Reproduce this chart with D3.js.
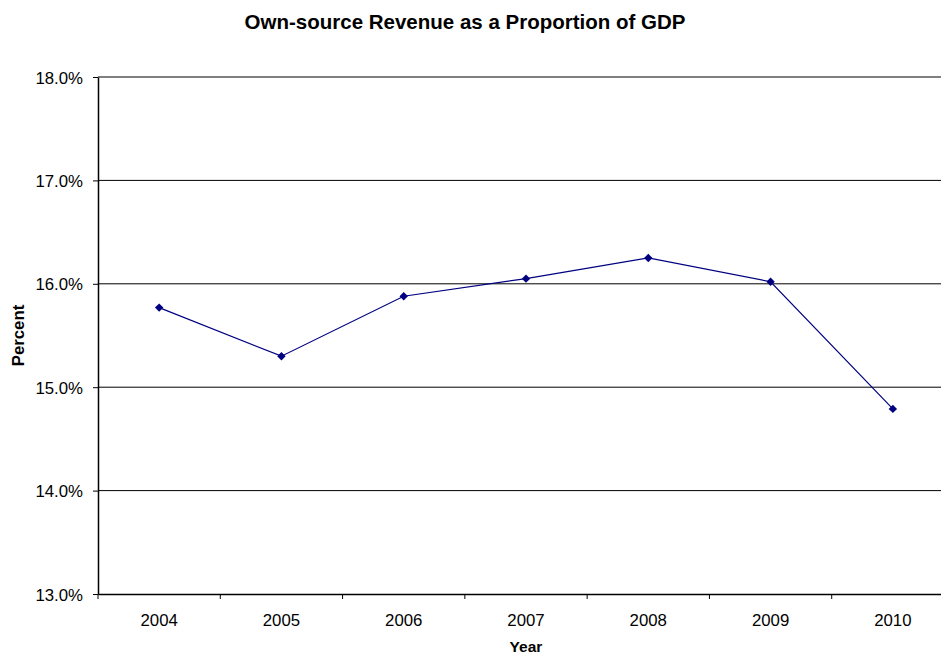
<!DOCTYPE html>
<html>
<head>
<meta charset="utf-8">
<script src="https://cdn.jsdelivr.net/npm/d3@7/dist/d3.min.js"></script>
<style>
  html, body { margin: 0; padding: 0; background: #fff; overflow: hidden; }
  svg { display: block; font-family: Arial, "Liberation Sans", sans-serif; }
</style>
</head>
<body>
<svg id="chart" width="941" height="656"></svg>
<script>
// Own-source revenue, percent of GDP, by year
const years = ["2004", "2005", "2006", "2007", "2008", "2009", "2010"];
const revenueShare = [15.77, 15.30, 15.88, 16.05, 16.25, 16.02, 14.79];
const yTicks = [13, 14, 15, 16, 17, 18];

const svg = d3.select("#chart");
const margin = { left: 98, top: 77, right: 954, bottom: 594 };
const labelFont = "Arial, 'Liberation Sans', sans-serif";

const x = d3.scaleBand().domain(years).range([margin.left, margin.right]).padding(0);
const y = d3.scaleLinear().domain([13, 18]).range([margin.bottom, margin.top]);

// horizontal gridlines
svg.append("g")
  .selectAll("line")
  .data(yTicks.filter(d => d > 13))
  .join("line")
  .attr("x1", margin.left).attr("x2", margin.right)
  .attr("y1", d => y(d)).attr("y2", d => y(d))
  .attr("stroke", "#000").attr("stroke-width", 1);

// y axis
const yAxis = svg.append("g")
  .attr("transform", `translate(${margin.left},0)`)
  .call(d3.axisLeft(y).tickValues(yTicks).tickFormat(d => d3.format(".1f")(d) + "%").tickSize(5).tickSizeOuter(0));
yAxis.select(".domain").attr("stroke", "#000").attr("stroke-width", 1.5);
yAxis.selectAll(".tick line").attr("stroke", "#000");
yAxis.selectAll(".tick text").attr("font-size", 16.8).attr("fill", "#000").attr("x", -15).attr("dy", "0.36em")
  .style("font-family", labelFont);

// x axis with ticks between categories
const xAxis = svg.append("g")
  .attr("transform", `translate(0,${margin.bottom})`)
  .call(d3.axisBottom(x).tickSize(0).tickSizeOuter(0));
xAxis.select(".domain").attr("stroke", "#000").attr("stroke-width", 1.5);
xAxis.selectAll(".tick text").attr("font-size", 16.8).attr("fill", "#000").attr("y", 32).attr("dy", 0)
  .style("font-family", labelFont);
xAxis.append("g")
  .selectAll("line")
  .data(years)
  .join("line")
  .attr("x1", d => x(d)).attr("x2", d => x(d))
  .attr("y1", 0).attr("y2", 5)
  .attr("stroke", "#000");

// series line
const line = d3.line()
  .x((d, i) => x(years[i]) + x.bandwidth() / 2)
  .y(d => y(d));
svg.append("path")
  .datum(revenueShare)
  .attr("d", line)
  .attr("fill", "none")
  .attr("stroke", "#000080")
  .attr("stroke-width", 1.2);

// diamond markers
svg.append("g")
  .selectAll("path")
  .data(revenueShare)
  .join("path")
  .attr("d", d3.symbol().type(d3.symbolDiamond2).size(45))
  .attr("transform", (d, i) => `translate(${x(years[i]) + x.bandwidth() / 2},${y(d)})`)
  .attr("fill", "#000080");

// titles
svg.append("text")
  .attr("x", 465).attr("y", 29)
  .attr("text-anchor", "middle")
  .attr("font-size", 20.5).attr("font-weight", "bold")
  .text("Own-source Revenue as a Proportion of GDP");

svg.append("text")
  .attr("transform", `translate(24,${(margin.top + margin.bottom) / 2}) rotate(-90)`)
  .attr("text-anchor", "middle")
  .attr("font-size", 16.8).attr("font-weight", "bold")
  .text("Percent");

svg.append("text")
  .attr("x", (margin.left + margin.right) / 2).attr("y", 652)
  .attr("text-anchor", "middle")
  .attr("font-size", 15.5).attr("font-weight", "bold")
  .text("Year");
</script>
</body>
</html>
